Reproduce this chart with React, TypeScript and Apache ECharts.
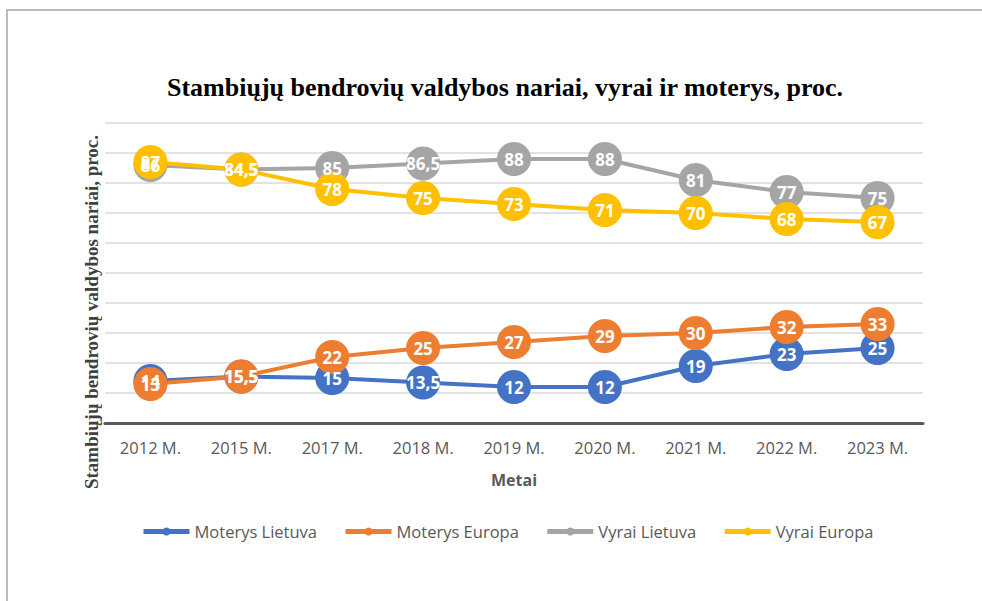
import React, { useEffect, useRef } from "react";
import * as echarts from "echarts";

const categories = ["2012 M.", "2015 M.", "2017 M.", "2018 M.", "2019 M.", "2020 M.", "2021 M.", "2022 M.", "2023 M."];
const moterysLietuva = [14, 15.5, 15, 13.5, 12, 12, 19, 23, 25];
const moterysEuropa = [13, 15.5, 22, 25, 27, 29, 30, 32, 33];
const vyraiLietuva = [86, 84.5, 85, 86.5, 88, 88, 81, 77, 75];
const vyraiEuropa = [87, 84.5, 78, 75, 73, 71, 70, 68, 67];

const titleText = "Stambiųjų bendrovių valdybos nariai, vyrai ir moterys, proc.";
const yName = "Stambiųjų bendrovių valdybos nariai, proc.";

const fmt = (v: number) => String(v).replace(".", ",");

function mk(name: string, data: number[], color: string) {
  return {
    name,
    type: "line",
    data,
    symbol: "circle",
    symbolSize: 34,
    lineStyle: { color, width: 4 },
    itemStyle: { color },
    label: {
      show: true,
      position: "inside",
      color: "#ffffff",
      fontWeight: "bold",
      fontSize: 17,
      fontFamily: "Open Sans",
      formatter: (p: any) => fmt(p.value),
    },
    emphasis: { disabled: true },
  };
}

export default function App() {
  const ref = useRef<HTMLDivElement>(null);
  useEffect(() => {
    const chart = echarts.init(ref.current!, null, { renderer: "svg" });
    chart.setOption({
      animation: false,
      backgroundColor: "#ffffff",
      title: {
        text: titleText,
        left: 500,
        textAlign: "center",
        top: 69,
        textStyle: { fontFamily: "Liberation Serif", fontWeight: "bold", fontSize: 26, color: "#000000" },
      },
      graphic: [
        {
          type: "rect",
          shape: { x: 7, y: 10, width: 1000, height: 620 },
          style: { fill: "none", stroke: "#a6a6a6", lineWidth: 1.5 },
          silent: true,
        },
        {
          type: "text",
          x: 91,
          y: 312,
          rotation: Math.PI / 2,
          style: {
            text: yName,
            fontFamily: "Liberation Serif",
            fontWeight: "bold",
            fontSize: 19,
            fill: "#404040",
            align: "center",
            verticalAlign: "middle",
          },
        },
      ],
      legend: {
        bottom: 56,
        left: 136,
        itemWidth: 46,
        itemHeight: 10,
        itemGap: 26,
        lineStyle: { width: 5 },
        textStyle: { color: "#595959", fontSize: 16.5, fontFamily: "Open Sans" },
        data: ["Moterys Lietuva", "Moterys Europa", "Vyrai Lietuva", "Vyrai Europa"],
      },
      grid: { left: 105, right: 59, top: 123, bottom: 178 },
      xAxis: {
        type: "category",
        data: categories,
        boundaryGap: true,
        name: "Metai",
        nameLocation: "middle",
        nameGap: 49,
        nameTextStyle: { color: "#595959", fontWeight: "bold", fontSize: 16, fontFamily: "Open Sans" },
        axisLine: { lineStyle: { color: "#595959", width: 3 } },
        axisTick: { show: false },
        axisLabel: { color: "#595959", fontSize: 16.5, fontFamily: "Open Sans", margin: 16 },
      },
      yAxis: {
        type: "value",
        min: 0,
        max: 100,
        interval: 10,
        axisLabel: { show: false },
        axisLine: { show: false },
        axisTick: { show: false },
        splitLine: { lineStyle: { color: "#d9d9d9", width: 1.5 } },
      },
      series: [
        mk("Moterys Lietuva", moterysLietuva, "#4472C4"),
        mk("Moterys Europa", moterysEuropa, "#ED7D31"),
        mk("Vyrai Lietuva", vyraiLietuva, "#A5A5A5"),
        mk("Vyrai Europa", vyraiEuropa, "#FFC000"),
      ],
    });
    return () => chart.dispose();
  }, []);
  return <div ref={ref} style={{ position: "fixed", left: 0, top: 0, width: 982, height: 601 }} />;
}
